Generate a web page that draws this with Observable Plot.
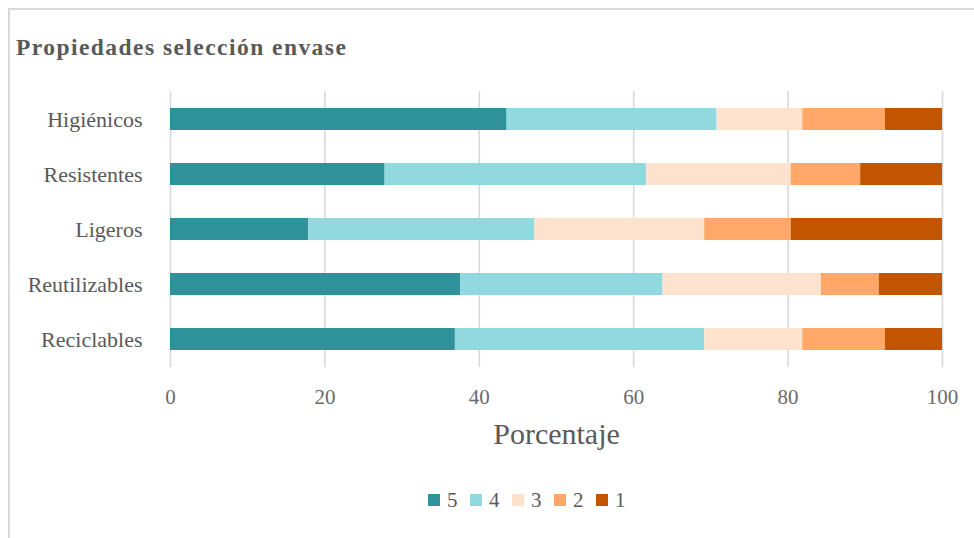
<!DOCTYPE html>
<html>
<head>
<meta charset="utf-8">
<script src="https://cdn.jsdelivr.net/npm/d3@7"></script>
<script src="https://cdn.jsdelivr.net/npm/@observablehq/plot@0.6"></script>
<style>
  html, body { margin: 0; padding: 0; background: #fff; overflow: hidden; }
  #wrap { position: relative; width: 974px; height: 538px; overflow: hidden; }
  #frame { position: absolute; left: 8px; top: 8px; width: 1000px; height: 600px; border: 2px solid #d9d9d9; box-sizing: border-box; }
  #title { position: absolute; left: 16px; top: 35px; font-family: 'Liberation Serif', serif; font-size: 23.5px; line-height: 24px; font-weight: bold; letter-spacing: 1.45px; color: #595959; white-space: nowrap; }
  #chart { position: absolute; left: 0; top: 0; }
  #legend { position: absolute; left: 0; top: 480px; }
</style>
</head>
<body>
<div id="wrap">
  <div id="frame"></div>
  <div id="title">Propiedades selección envase</div>
  <div id="chart"></div>
  <div id="legend"></div>
</div>
<script>
const categories = ["Higiénicos", "Resistentes", "Ligeros", "Reutilizables", "Reciclables"];
const levels = ["5", "4", "3", "2", "1"];
const colors = ["#2f9199", "#92d8df", "#fde3ce", "#ffa86a", "#c45500"];
const level5 = [43.6, 27.8, 17.9, 37.6, 36.9];
const level4 = [27.2, 33.9, 29.3, 26.2, 32.3];
const level3 = [11.1, 18.7, 22.0, 20.5, 12.7];
const level2 = [10.7, 9.0, 11.2, 7.5, 10.7];
const level1 = [7.4, 10.6, 19.6, 8.2, 7.4];
const xTicks = [0, 20, 40, 60, 80, 100];
const axisTitle = "Porcentaje";

const series = [level5, level4, level3, level2, level1];
const rows = [];
categories.forEach((c, i) => {
  levels.forEach((l, j) => rows.push({cat: c, level: l, value: series[j][i]}));
});

const SERIF = "'Liberation Serif', 'DejaVu Serif Condensed', 'DejaVu Serif'";

const chart = Plot.plot({
  width: 974,
  height: 470,
  marginTop: 91,
  marginBottom: 103,
  marginLeft: 170,
  marginRight: 32,
  style: {fontFamily: SERIF, background: "transparent"},
  x: {domain: [0, 100], ticks: xTicks},
  y: {domain: categories, paddingInner: 0.6, paddingOuter: 0.3},
  color: {domain: levels, range: colors},
  marks: [
    Plot.gridX(xTicks, {stroke: "#d9d9d9", strokeOpacity: 1, strokeWidth: 1.6}),
    Plot.barX(rows, Plot.stackX({y: "cat", x: "value", z: "level", fill: "level", order: levels})),
    Plot.axisX(xTicks, {tickSize: 0, tickPadding: 22, fontSize: 21, color: "#6a6a6a", label: null, fontFamily: SERIF}),
    Plot.axisY({tickSize: 0, tickPadding: 28, fontSize: 22, color: "#595959", label: null, fontFamily: SERIF}),
    Plot.text([axisTitle], {frameAnchor: "bottom", dy: 76, fontSize: 30, fill: "#595959", fontFamily: SERIF})
  ]
});
document.getElementById("chart").appendChild(chart);

const legSvg = d3.select("#legend").append("svg")
  .attr("width", 974).attr("height", 40);
let lx = 428;
levels.forEach((l, i) => {
  legSvg.append("rect").attr("x", lx).attr("y", 14).attr("width", 12).attr("height", 12).attr("fill", colors[i]);
  legSvg.append("text").attr("x", lx + 19).attr("y", 27).attr("font-size", 21)
    .attr("font-family", SERIF).attr("fill", "#595959").text(l);
  lx += 42;
});
</script>
</body>
</html>
